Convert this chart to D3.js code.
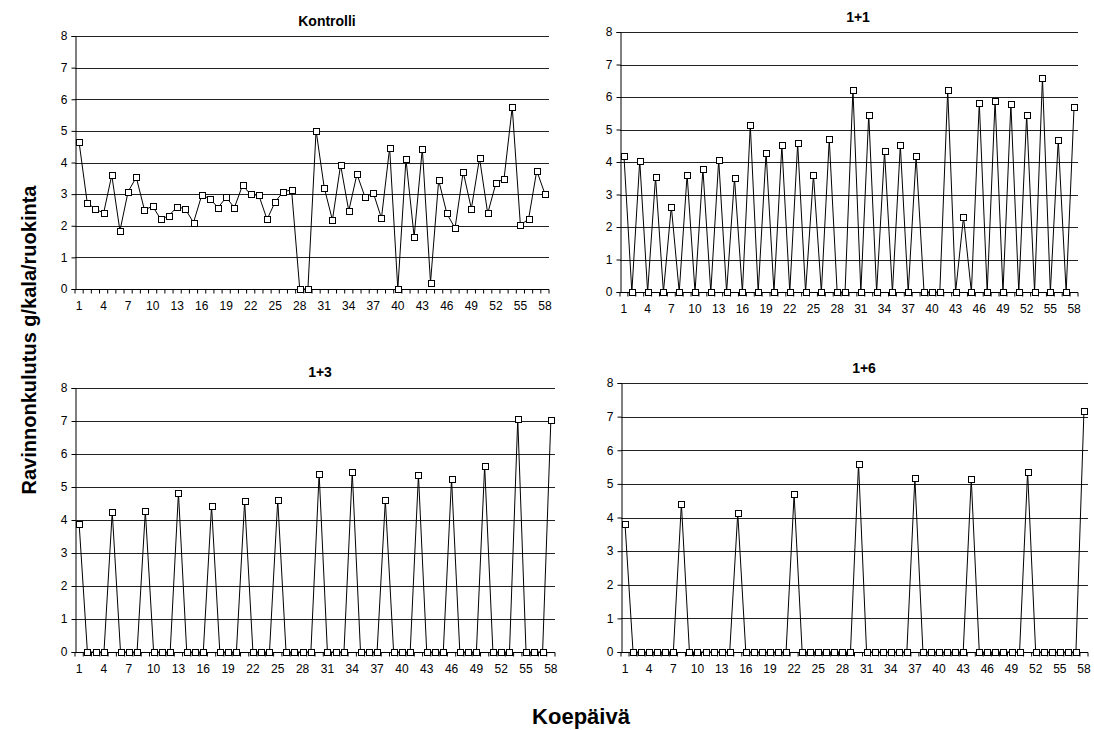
<!DOCTYPE html>
<html>
<head>
<meta charset="utf-8">
<script src="https://cdn.jsdelivr.net/npm/d3@7"></script>
<style>
body{margin:0;padding:0;background:#fff;overflow:hidden}
text{font-family:"Liberation Sans",Arial,sans-serif}
</style>
</head>
<body>
<script>
// koepäivät 1..58
const days = [1,2,3,4,5,6,7,8,9,10,11,12,13,14,15,16,17,18,19,20,21,22,23,24,25,26,27,28,29,30,
  31,32,33,34,35,36,37,38,39,40,41,42,43,44,45,46,47,48,49,50,51,52,53,54,55,56,57,58];
const tickLabels = [1,4,7,10,13,16,19,22,25,28,31,34,37,40,43,46,49,52,55,58];
const yTicks = [0,1,2,3,4,5,6,7,8];

const kontrolli = [4.64,2.72,2.53,2.4,3.6,1.84,3.08,3.53,2.5,2.62,
  2.2,2.32,2.6,2.53,2.1,2.96,2.86,2.57,2.9,2.57,
  3.28,2.99,2.96,2.2,2.76,3.08,3.13,0,0,5.01,
  3.2,2.18,3.92,2.47,3.63,2.9,3.04,2.24,4.46,0,
  4.1,1.65,4.44,0.2,3.44,2.39,1.92,3.7,2.54,4.14,
  2.39,3.34,3.49,5.75,2.02,2.21,3.74,3.01];

const yksiYksi = [4.2,0,4.04,0,3.54,0,2.63,0,3.61,0,
  3.78,0,4.07,0,3.51,0,5.13,0,4.29,0,
  4.51,0,4.57,0,3.61,0,4.7,0,0,6.23,
  0,5.46,0,4.33,0,4.51,0,4.18,0,0,
  0,6.21,0,2.31,0,5.82,0,5.89,0,5.78,
  0,5.46,0,6.59,0,4.69,0,5.68];

const yksiKolme = [3.88,0,0,0,4.24,0,0,0,4.27,0,
  0,0,4.82,0,0,0,4.43,0,0,0,
  4.57,0,0,0,4.6,0,0,0,0,5.4,
  0,0,0,5.46,0,0,0,4.6,0,0,
  0,5.36,0,0,0,5.25,0,0,0,5.64,
  0,0,0,7.05,0,0,0,7.02];

const yksiKuusi = [3.81,0,0,0,0,0,0,4.41,0,0,
  0,0,0,0,4.13,0,0,0,0,0,
  0,4.69,0,0,0,0,0,0,0,5.6,
  0,0,0,0,0,0,5.18,0,0,0,
  0,0,0,5.15,0,0,0,0,0,0,
  5.36,0,0,0,0,0,0,7.18];

const panels = [
  {title:"Kontrolli", values:kontrolli, left:75, right:549, top:36, bottom:289, tx:327, ty:26},
  {title:"1+1", values:yksiYksi, left:620, right:1078, top:32, bottom:292, tx:858, ty:22},
  {title:"1+3", values:yksiKolme, left:75, right:555, top:388, bottom:652, tx:320, ty:377},
  {title:"1+6", values:yksiKuusi, left:621, right:1088, top:383, bottom:652, tx:864, ty:373}
];

const svg = d3.select("body").append("svg")
  .attr("width",1094).attr("height",730);

panels.forEach(p => {
  const x = d3.scaleBand().domain(days).range([p.left,p.right]).padding(0);
  const y = d3.scaleLinear().domain([0,8]).range([p.bottom,p.top]);
  const g = svg.append("g");

  // vaakaviivat
  g.selectAll(".grid").data(yTicks.filter(d=>d>0)).enter()
    .append("line")
    .attr("x1",p.left).attr("x2",p.right)
    .attr("y1",d=>Math.round(y(d))+0.5).attr("y2",d=>Math.round(y(d))+0.5)
    .attr("stroke","#222").attr("stroke-width",1);

  // y-akseli
  const yAxis = g.append("g")
    .attr("transform","translate("+(Math.round(p.left)+0.5)+",0)")
    .call(d3.axisLeft(y).tickValues(yTicks).tickSize(4).tickPadding(4).tickFormat(d3.format("d")));
  yAxis.select(".domain").attr("stroke","#000");
  yAxis.selectAll("line").attr("stroke","#000");
  yAxis.selectAll("text").attr("font-size",12).attr("fill","#000");

  // x-akseli: pienet väkäset päivien rajoilla
  const base = Math.round(y(0))+0.5;
  g.append("line").attr("x1",p.left).attr("x2",p.right)
    .attr("y1",base).attr("y2",base).attr("stroke","#000");
  g.selectAll(".xt").data(days.concat(["end"])).enter()
    .append("line")
    .attr("x1",d=>d==="end"?p.right:x(d)).attr("x2",d=>d==="end"?p.right:x(d))
    .attr("y1",base).attr("y2",base+4)
    .attr("stroke","#000");

  const xAxis = g.append("g")
    .attr("transform","translate(0,"+base+")")
    .call(d3.axisBottom(x).tickValues(tickLabels).tickSize(0).tickPadding(12));
  xAxis.select(".domain").remove();
  xAxis.selectAll("text").attr("font-size",12).attr("fill","#000");

  // viiva ja merkit
  const line = d3.line().x((d,i)=>x(days[i])+x.bandwidth()/2).y(d=>y(d));
  g.append("path").datum(p.values)
    .attr("d",line).attr("fill","none").attr("stroke","#000").attr("stroke-width",1);

  g.selectAll(".m").data(p.values).enter()
    .append("rect")
    .attr("x",(d,i)=>Math.round(x(days[i])+x.bandwidth()/2)-3+0.5)
    .attr("y",d=>Math.round(y(d))-3+0.5)
    .attr("width",6).attr("height",6)
    .attr("fill","#fff").attr("stroke","#000").attr("stroke-width",1);

  g.append("text")
    .attr("x",p.tx).attr("y",p.ty)
    .attr("text-anchor","middle")
    .attr("font-size",14).attr("font-weight","bold")
    .text(p.title);
});

svg.append("text")
  .attr("transform","translate(36,340) rotate(-90)")
  .attr("text-anchor","middle")
  .attr("font-size",20).attr("font-weight","bold")
  .text("Ravinnonkulutus g/kala/ruokinta");

svg.append("text")
  .attr("x",581).attr("y",724)
  .attr("text-anchor","middle")
  .attr("font-size",22).attr("font-weight","bold")
  .text("Koepäivä");
</script>
</body>
</html>
